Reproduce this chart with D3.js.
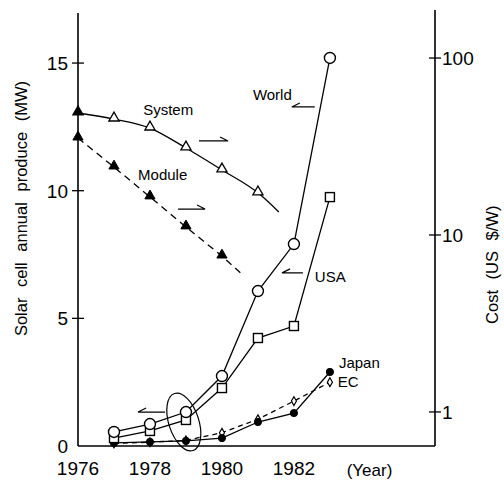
<!DOCTYPE html>
<html>
<head>
<meta charset="utf-8">
<script src="https://cdn.jsdelivr.net/npm/d3@7"></script>
<style>
  body { margin: 0; background: #fff; }
  svg { font-family: 'Liberation Sans', Arial, sans-serif; }
  .line { fill: none; stroke: #000; stroke-width: 1.3; }
</style>
</head>
<body>
<div id="chart"></div>
<script>
// production (MW), left axis
const years = [1977, 1978, 1979, 1980, 1981, 1982, 1983];
const world = [0.55, 0.86, 1.33, 2.74, 6.07, 7.91, 15.2];
const usa = [0.31, 0.59, 1.02, 2.27, 4.23, 4.7, 9.75];
const japan = [0.12, 0.16, 0.2, 0.31, 0.94, 1.29, 2.9];
const ec = [0.1, 0.15, 0.22, 0.52, 1.05, 1.76, 2.5];

// cost (US $/W), right axis (log)
const costYears = [1976, 1977, 1978, 1979, 1980, 1981];
const systemCost = [48.9, 45.2, 40.2, 31, 23.3, 17.3];
const systemEnd = [1981.58, 13.5];
const moduleYears = [1976, 1977, 1978, 1979, 1980];
const moduleCost = [35.3, 24.2, 16.4, 11.1, 7.6];
const moduleEnd = [1980.58, 5.94];

const xTicks = [1976, 1978, 1980, 1982];
const leftTicks = [0, 5, 10, 15];
const rightTicks = [1, 10, 100];

const margin = { top: 12, right: 69, bottom: 36, left: 78 };
const width = 504 - margin.left - margin.right;
const height = 482 - margin.top - margin.bottom;

const x = d3.scaleLinear().domain([1976, 1985.92]).range([0, width]);
const y = d3.scaleLinear().domain([0, 17]).range([height, 0]);
const yc = d3.scaleLog().domain([0.642, 182]).range([height, 0]);

const svg = d3.select('#chart').append('svg')
  .attr('width', 504)
  .attr('height', 482)
  .append('g')
  .attr('transform', `translate(${margin.left},${margin.top})`);

// axes
svg.append('line').attr('x1', 0).attr('x2', width).attr('y1', height).attr('y2', height)
  .attr('stroke', '#000').attr('stroke-width', 1.6);
svg.append('line').attr('x1', 0).attr('x2', 0).attr('y1', 1).attr('y2', height)
  .attr('stroke', '#000').attr('stroke-width', 1.6);
svg.append('line').attr('x1', width).attr('x2', width).attr('y1', -2).attr('y2', height)
  .attr('stroke', '#000').attr('stroke-width', 1.6);

const tickFont = 19;
leftTicks.forEach(t => {
  if (t > 0) {
    svg.append('line').attr('x1', -6).attr('x2', 6).attr('y1', y(t)).attr('y2', y(t))
      .attr('stroke', '#000').attr('stroke-width', 1.3);
  }
  svg.append('text').attr('x', -10).attr('y', y(t)).attr('dy', '0.36em')
    .attr('text-anchor', 'end').attr('font-size', tickFont).text(t);
});
rightTicks.forEach(t => {
  svg.append('line').attr('x1', width - 6).attr('x2', width + 6).attr('y1', yc(t)).attr('y2', yc(t))
    .attr('stroke', '#000').attr('stroke-width', 1.3);
  svg.append('text').attr('x', width + 7).attr('y', yc(t)).attr('dy', '0.36em')
    .attr('font-size', tickFont).text(t);
});
xTicks.forEach(t => {
  svg.append('text').attr('x', x(t)).attr('y', height + 29)
    .attr('text-anchor', 'middle').attr('font-size', tickFont).text(t);
});
svg.append('text').attr('x', x(1984.1)).attr('y', height + 30)
  .attr('text-anchor', 'middle').attr('font-size', 17).text('(Year)');

svg.append('text')
  .attr('transform', `translate(${-51},${y(9.3)}) rotate(-90)`)
  .attr('text-anchor', 'middle').attr('font-size', 16.5).attr('word-spacing', 6)
  .text('Solar cell annual produce (MW)');
svg.append('text')
  .attr('transform', `translate(${width + 63},${y(7.1)}) rotate(-90)`)
  .attr('text-anchor', 'middle').attr('font-size', 16.5).attr('word-spacing', 6)
  .text('Cost (US $/W)');

// lines
const prodLine = d3.line().x(d => x(d[0])).y(d => y(d[1]));
const costLine = d3.line().x(d => x(d[0])).y(d => yc(d[1]));

const worldPts = years.map((d, i) => [d, world[i]]);
const usaPts = years.map((d, i) => [d, usa[i]]);
const japanPts = years.map((d, i) => [d, japan[i]]);
const ecPts = years.map((d, i) => [d, ec[i]]);
const sysPts = costYears.map((d, i) => [d, systemCost[i]]);
const modPts = moduleYears.map((d, i) => [d, moduleCost[i]]);

svg.append('path').datum(worldPts).attr('class', 'line').attr('d', prodLine);
svg.append('path').datum(usaPts).attr('class', 'line').attr('d', prodLine);
svg.append('path').datum(japanPts).attr('class', 'line').attr('d', prodLine);
svg.append('path').datum(ecPts).attr('class', 'line').attr('stroke-dasharray', '5,4').attr('d', prodLine);
svg.append('path').datum(sysPts.concat([systemEnd])).attr('class', 'line')
  .attr('d', costLine.curve(d3.curveMonotoneX));
svg.append('path').datum(modPts.concat([moduleEnd])).attr('class', 'line')
  .attr('stroke-dasharray', '7,5').attr('d', d3.line().x(d => x(d[0])).y(d => yc(d[1])));

// markers
const tri = d3.symbol().type(d3.symbolTriangle).size(45);
svg.selectAll('.sys').data(sysPts).enter().append('path')
  .attr('transform', d => `translate(${x(d[0])},${yc(d[1]) - 1})`)
  .attr('d', tri)
  .attr('fill', (d, i) => i === 0 ? '#000' : '#fff').attr('stroke', '#000').attr('stroke-width', 1.3);
svg.selectAll('.mod').data(modPts).enter().append('path')
  .attr('transform', d => `translate(${x(d[0])},${yc(d[1]) - 1})`)
  .attr('d', tri)
  .attr('fill', '#000').attr('stroke', '#000').attr('stroke-width', 1);

svg.selectAll('.ecm').data(ecPts).enter().append('path')
  .attr('transform', d => `translate(${x(d[0])},${y(d[1])})`)
  .attr('d', d3.symbol().type(d3.symbolDiamond).size(22))
  .attr('fill', '#fff').attr('stroke', '#000').attr('stroke-width', 1.2);
svg.selectAll('.jpm').data(japanPts).enter().append('circle')
  .attr('cx', d => x(d[0])).attr('cy', d => y(d[1])).attr('r', 3.6)
  .attr('fill', '#000').attr('stroke', '#000');
svg.selectAll('.usm').data(usaPts).enter().append('rect')
  .attr('x', d => x(d[0]) - 4.5).attr('y', d => y(d[1]) - 4.5)
  .attr('width', 9).attr('height', 9)
  .attr('fill', '#fff').attr('stroke', '#000').attr('stroke-width', 1.4);
svg.selectAll('.wm').data(worldPts).enter().append('circle')
  .attr('cx', d => x(d[0])).attr('cy', d => y(d[1])).attr('r', 5.5)
  .attr('fill', '#fff').attr('stroke', '#000').attr('stroke-width', 1.4);

// annotations (data coordinates on left axis)
const labels = [
  ['System', 1977.81, 12.97],
  ['Module', 1977.67, 10.42],
  ['World', 1980.86, 13.55],
  ['USA', 1982.58, 6.42],
  ['Japan', 1983.25, 3.06],
  ['EC', 1983.22, 2.31],
];
labels.forEach(l => {
  svg.append('text').attr('x', x(l[1])).attr('y', y(l[2]))
    .attr('font-size', 15).text(l[0]);
});

// half-headed arrows: [from year, to year, value]
const arrows = [
  [1979.36, 1980.17, 11.95],
  [1978.78, 1979.53, 9.28],
  [1982.58, 1981.94, 13.28],
  [1982.25, 1981.67, 6.78],
  [1978.42, 1977.67, 1.33],
];
arrows.forEach(a => {
  const x1 = x(a[0]), x2 = x(a[1]), yy = y(a[2]);
  const dir = x2 > x1 ? -1 : 1;
  svg.append('path')
    .attr('d', `M${x1},${yy}L${x2},${yy}L${x2 + dir * 8},${yy - 4}`)
    .attr('fill', 'none').attr('stroke', '#000').attr('stroke-width', 1.2);
});

// loop around 1979 points
svg.append('ellipse')
  .attr('cx', x(1978.94)).attr('cy', y(0.94))
  .attr('rx', 15).attr('ry', 30)
  .attr('transform', `rotate(-18,${x(1978.94)},${y(0.94)})`)
  .attr('fill', 'none').attr('stroke', '#000').attr('stroke-width', 1.2);
</script>
</body>
</html>
